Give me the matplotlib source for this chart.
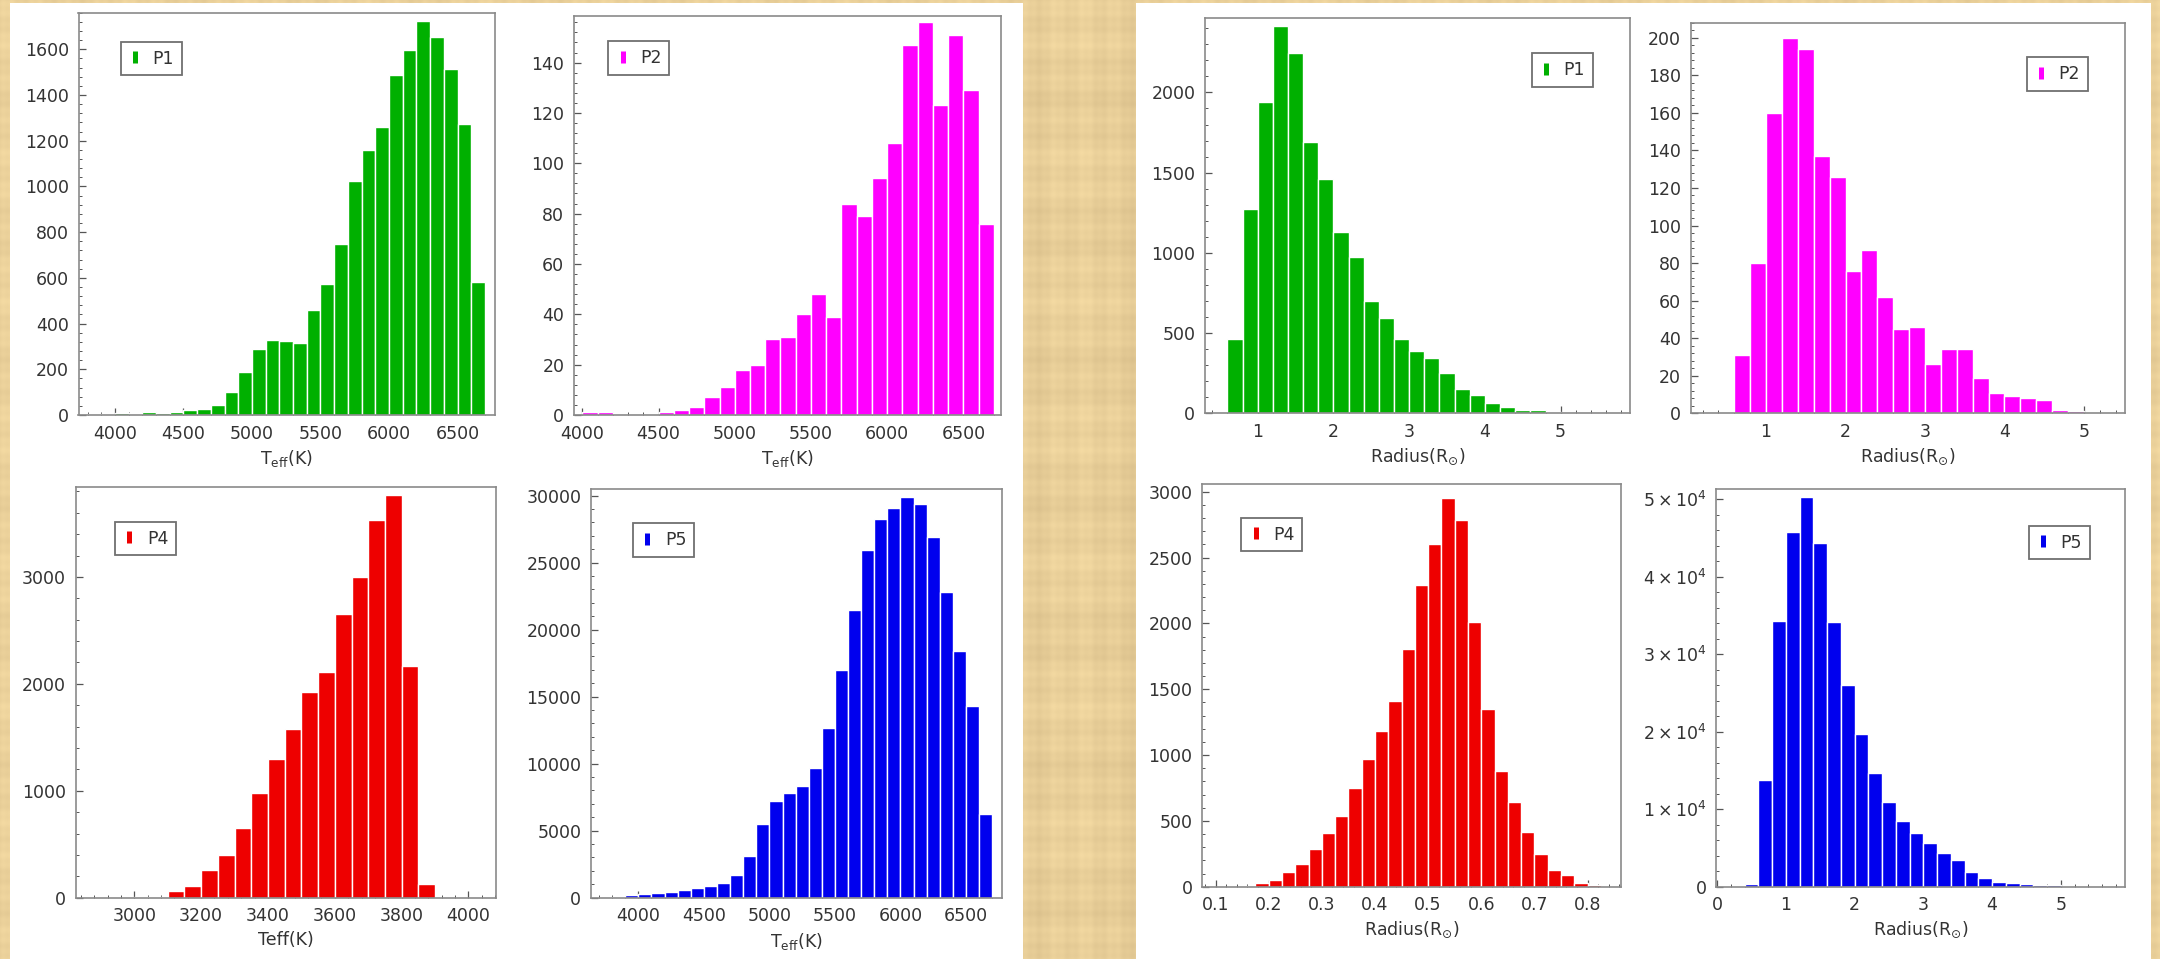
import numpy as np
import matplotlib
matplotlib.use('Agg')
import matplotlib.pyplot as plt
from matplotlib.patches import Rectangle
from matplotlib.lines import Line2D
from matplotlib.ticker import MultipleLocator, AutoMinorLocator, FuncFormatter

W, H = 2160, 959

# ---- histogram counts (bin start, bin width, counts) ----
teff_p1_start, teff_p1_width = 3800, 100
teff_p1 = [3, 3, 10, 6, 12, 8, 12, 20, 26, 45, 102, 190, 288, 329, 325, 315, 458,
           575, 750, 1022, 1160, 1262, 1486, 1596, 1725, 1652, 1512, 1275, 580]

teff_p2_start, teff_p2_width = 4000, 100
teff_p2 = [1, 1, 0, 0, 0, 1, 2, 3, 7, 11, 18, 20, 30, 31, 40, 48, 39, 84, 79, 94,
           108, 147, 156, 123, 151, 129, 76]

teff_p4_start, teff_p4_width = 3000, 50
teff_p4 = [8, 8, 62, 106, 256, 400, 650, 981, 1294, 1581, 1922, 2112, 2650, 3000,
           3531, 3766, 2169, 131]

teff_p5_start, teff_p5_width = 3700, 100
teff_p5 = [10, 75, 200, 250, 325, 400, 575, 725, 875, 1120, 1670, 3120, 5490, 7180,
           7830, 8300, 9680, 12640, 16960, 21450, 25940, 28230, 29080, 29900, 29380,
           26930, 22840, 18430, 14310, 6280]

rad_p1_start, rad_p1_width = 0.6, 0.2
rad_p1 = [464, 1272, 1942, 2416, 2243, 1692, 1463, 1132, 974, 701, 595, 464, 391,
          343, 252, 150, 112, 65, 42, 21, 21, 6, 4]

rad_p2_start, rad_p2_width = 0.6, 0.2
rad_p2 = [31, 80, 160, 200, 194, 137, 126, 76, 87, 62, 45, 46, 26, 34, 34, 19, 11,
          9, 8, 7, 2, 1]

rad_p4_start, rad_p4_width = 0.15, 0.025
rad_p4 = [8, 25, 50, 109, 175, 286, 405, 537, 747, 970, 1180, 1410, 1803, 2294,
          2603, 2954, 2785, 2008, 1349, 878, 641, 418, 248, 127, 89, 30, 10]

rad_p5_start, rad_p5_width = 0.4, 0.2
rad_p5 = [300, 13770, 34290, 45740, 50340, 44410, 34120, 26030, 19710, 14630, 10970,
          8520, 6880, 5590, 4390, 3440, 1850, 1160, 650, 430, 300, 215, 170]

GREEN = '#00b000'
MAGENTA = '#ff00ff'
RED = '#ee0000'
BLUE = '#0000ee'

TEFF = r'T$_{\rm eff}$(K)'
RAD = r'Radius(R$_{\odot}$)'

fig = plt.figure(figsize=(W / 100, H / 100), dpi=100)
fig.patch.set_facecolor('#e7cd98')

# papyrus-like background: faint fibre streaks made of sines, then the white panels
bg = fig.add_axes([0, 0, 1, 1], zorder=-10)
xx = np.arange(W)
yy = np.arange(H)
vert = 0.5 * np.sin(xx * 0.21) + 0.35 * np.sin(xx * 0.053 + 1.0) + 0.3 * np.sin(xx * 0.67)
horz = 0.5 * np.sin(yy * 0.17 + 0.4) + 0.35 * np.sin(yy * 0.047) + 0.3 * np.sin(yy * 0.59)
tex = (vert[None, :] + horz[:, None]) / 2.3
base = np.array([232, 206, 152]) / 255.0
img = np.clip(base[None, None, :] + tex[:, :, None] * np.array([14, 14, 12]) / 255.0, 0, 1)
bg.imshow(img, extent=(0, 1, 0, 1), aspect='auto', interpolation='bilinear')
for x0, x1 in [(10, 1023), (1136, 2151)]:
    bg.add_patch(Rectangle((x0 / W, 0), (x1 - x0) / W, 1 - 3 / H,
                           facecolor='white', edgecolor='none'))
bg.set_xlim(0, 1)
bg.set_ylim(0, 1)
bg.axis('off')


def sci4(v, pos):
    if abs(v) < 1e-9:
        return '0'
    return r'$%d\times10^{4}$' % round(v / 1e4)


def panel(box, start, width, counts, color, name, xlim, ylim, xstep, ystep,
          xlabel, leg_xy, leg_loc='upper left', yfmt=None):
    x0, x1, y0, y1 = box
    ax = fig.add_axes([x0 / W, 1 - y1 / H, (x1 - x0) / W, (y1 - y0) / H])
    lefts = start + width * np.arange(len(counts))
    ax.bar(lefts, counts, width=width, align='edge', color=color,
           edgecolor='white', linewidth=1.0, zorder=2)
    ax.set_xlim(*xlim)
    ax.set_ylim(*ylim)
    ax.xaxis.set_major_locator(MultipleLocator(xstep))
    ax.yaxis.set_major_locator(MultipleLocator(ystep))
    ax.xaxis.set_minor_locator(AutoMinorLocator(5))
    ax.yaxis.set_minor_locator(AutoMinorLocator(5))
    if yfmt is not None:
        ax.yaxis.set_major_formatter(FuncFormatter(yfmt))
    for sp in ax.spines.values():
        sp.set_color('#8a8a8a')
        sp.set_linewidth(1.2)
    ax.tick_params(which='both', direction='in', top=False, right=False,
                   colors='#555555', labelcolor='#333333', labelsize=12.5)
    ax.tick_params(which='major', length=5, width=0.9, pad=7)
    ax.tick_params(which='minor', length=2.5, width=0.7)
    ax.set_xlabel(xlabel, fontsize=12.5, color='#333333', labelpad=4)

    h = Line2D([], [], linestyle='none', marker='|', markersize=8,
               markeredgewidth=3.6, color=color)
    lx, ly = leg_xy
    leg = ax.legend([h], [name], loc=leg_loc,
                    bbox_to_anchor=(lx / W, 1 - ly / H), bbox_transform=fig.transFigure,
                    borderaxespad=0, fancybox=False, edgecolor='#707070',
                    framealpha=1, fontsize=12.5, borderpad=0.45,
                    handlelength=0.8, handletextpad=0.6)
    leg.get_frame().set_linewidth(1.3)
    for t in leg.get_texts():
        t.set_color('#333333')
    return ax


# Teff histograms (left panel)
panel((78.5, 494.8, 12.7, 415), teff_p1_start, teff_p1_width, teff_p1, GREEN, 'P1',
      (3734, 6772), (0, 1760), 500, 200, TEFF, (120.5, 41.7))
panel((574, 1001, 16, 415), teff_p2_start, teff_p2_width, teff_p2, MAGENTA, 'P2',
      (3945, 6747), (0, 158.5), 500, 20, TEFF, (608, 41))
panel((75.8, 495.9, 486.7, 897.7), teff_p4_start, teff_p4_width, teff_p4, RED, 'P4',
      (2825, 4082), (0, 3844), 200, 1000, 'Teff(K)', (114.7, 521.7))
panel((591, 1001.7, 489.3, 897.7), teff_p5_start, teff_p5_width, teff_p5, BLUE, 'P5',
      (3639, 6772), (0, 30474), 500, 5000, TEFF, (632.7, 523))

# Radius histograms (right panel)
panel((1205, 1630, 18.3, 413.3), rad_p1_start, rad_p1_width, rad_p1, GREEN, 'P1',
      (0.305, 5.915), (0, 2462), 1, 500, RAD, (1593, 53), 'upper right')
panel((1690.6, 2125.2, 22.7, 413.3), rad_p2_start, rad_p2_width, rad_p2, MAGENTA, 'P2',
      (0.05, 5.52), (0, 208), 1, 20, RAD, (2088, 57), 'upper right')
panel((1202.3, 1621, 484.3, 886.7), rad_p4_start, rad_p4_width, rad_p4, RED, 'P4',
      (0.075, 0.863), (0, 3056), 0.1, 500, RAD, (1241, 517.7))
panel((1716.4, 2125.2, 489.3, 886.7), rad_p5_start, rad_p5_width, rad_p5, BLUE, 'P5',
      (-0.01, 5.937), (0, 51290), 1, 10000, RAD, (2090, 525.7), 'upper right', sci4)

fig.savefig('out.png', dpi=100, facecolor=fig.get_facecolor())
